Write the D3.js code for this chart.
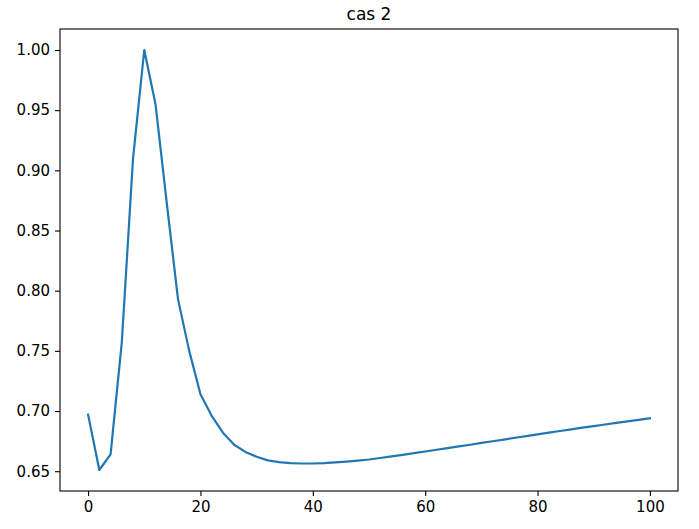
<!DOCTYPE html>
<html>
<head>
<meta charset="utf-8">
<script src="https://cdn.jsdelivr.net/npm/d3@7"></script>
<style>
  body { margin: 0; background: white; }
  .axis text { font-family: "DejaVu Sans", sans-serif; font-size: 15px; fill: #000; }
  .axis path, .axis line { stroke: #000; stroke-width: 1.1; }
</style>
</head>
<body>
<div id="chart"></div>
<script>
// values, one per step of 2
var xs = [0, 2, 4, 6, 8, 10, 12, 14, 16, 18, 20, 22, 24, 26, 28, 30, 32, 34, 36, 38,
          40, 42, 44, 46, 48, 50, 52, 54, 56, 58, 60, 62, 64, 66, 68, 70, 72, 74, 76, 78,
          80, 82, 84, 86, 88, 90, 92, 94, 96, 98, 100];
var ys = [0.697, 0.651, 0.664, 0.757, 0.910, 1.000, 0.955, 0.873, 0.793, 0.750,
          0.714, 0.696, 0.682, 0.672, 0.666, 0.662, 0.659, 0.6575, 0.6567, 0.6564,
          0.6564, 0.6567, 0.6573, 0.6580, 0.6588, 0.6597, 0.6610, 0.6623, 0.6636, 0.6650,
          0.6664, 0.6678, 0.6692, 0.6706, 0.6720, 0.6735, 0.6749, 0.6763, 0.6778, 0.6792,
          0.6806, 0.6820, 0.6834, 0.6848, 0.6862, 0.6875, 0.6888, 0.6901, 0.6914, 0.6927,
          0.6940];
var xTicks = [0, 20, 40, 60, 80, 100];
var yTicks = [0.65, 0.70, 0.75, 0.80, 0.85, 0.90, 0.95, 1.00];
var title = "cas 2";

makeChart();

function makeChart(){
    var w = 699;
    var h = 529;
    var m = {top: 29, right: 21, bottom: 38, left: 60};

    var svg = d3.select("#chart")
                .append("svg")
                .attr("width", w)
                .attr("height", h);

    var data = xs.map(function(x, i){ return {x: x, y: ys[i]}; });

    // matplotlib style 5% padding
    var xPad = (d3.max(xs) - d3.min(xs)) * 0.05;
    var yPad = (d3.max(ys) - d3.min(ys)) * 0.05;

    var xScale = d3.scaleLinear()
                   .domain([d3.min(xs) - xPad, d3.max(xs) + xPad])
                   .range([m.left, w - m.right]);

    var yScale = d3.scaleLinear()
                   .domain([d3.min(ys) - yPad, d3.max(ys) + yPad])
                   .range([h - m.bottom, m.top]);

    var xAxis = d3.axisBottom(xScale).tickValues(xTicks).tickFormat(d3.format("d"))
                  .tickSize(5).tickPadding(5);
    var yAxis = d3.axisLeft(yScale).tickValues(yTicks).tickFormat(d3.format(".2f"))
                  .tickSize(5).tickPadding(5);

    svg.append("g")
        .attr("class", "axis x--axis")
        .attr("transform", "translate(0," + (h - m.bottom) + ")")
        .call(xAxis)
        .select(".domain").remove();

    svg.append("g")
        .attr("class", "axis y--axis")
        .attr("transform", "translate(" + m.left + ",0)")
        .call(yAxis)
        .select(".domain").remove();

    var line = d3.line()
                 .x(function(d){ return xScale(d.x); })
                 .y(function(d){ return yScale(d.y); });

    svg.append("path")
        .datum(data)
        .attr("d", line)
        .style("fill", "none")
        .style("stroke", "#1f77b4")
        .style("stroke-width", 2.2)
        .style("stroke-linejoin", "round")
        .style("stroke-linecap", "square");

    // frame
    svg.append("rect")
        .attr("x", m.left)
        .attr("y", m.top)
        .attr("width", w - m.left - m.right)
        .attr("height", h - m.top - m.bottom)
        .style("fill", "none")
        .style("stroke", "#000")
        .style("stroke-width", 1.1);

    svg.append("text")
        .attr("x", (m.left + w - m.right) / 2)
        .attr("y", m.top - 9)
        .attr("text-anchor", "middle")
        .style("font-family", "DejaVu Sans, sans-serif")
        .style("font-size", "17px")
        .text(title);
}
</script>
</body>
</html>
